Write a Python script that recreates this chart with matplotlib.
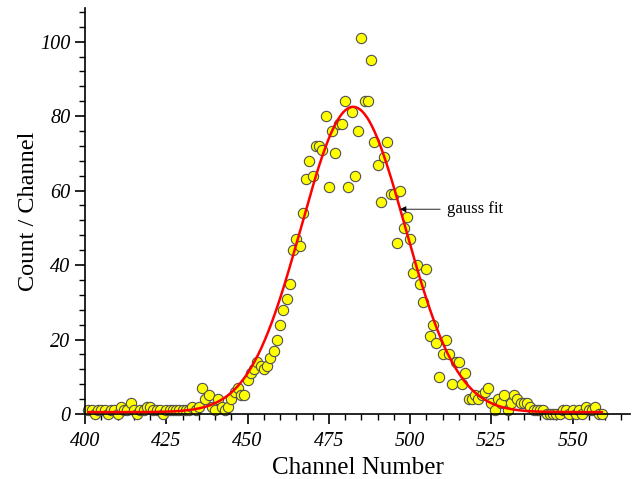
import numpy as np
import matplotlib
matplotlib.use("Agg")
import matplotlib.pyplot as plt
from matplotlib.ticker import MultipleLocator

# channel counts
channels = np.arange(401, 560)
counts = [
    1, 1, 0, 1, 1, 1, 0, 1, 1, 0,        # 401-410
    2, 1, 1, 3, 1, 0, 1, 1, 2, 2,        # 411-420
    1, 1, 1, 0, 1, 1, 1, 1, 1, 1,        # 421-430
    1, 1, 2, 1, 2, 7, 4, 5, 2, 1,        # 431-440
    4, 2, 1, 2, 4, 6, 7, 5, 5, 9,        # 441-450
    11, 12, 14, 13, 12, 13, 15, 17, 20, 24,   # 451-460
    28, 31, 35, 44, 47, 45, 54, 63, 68, 64,   # 461-470
    72, 72, 71, 80, 61, 76, 70, 78, 78, 84,   # 471-480
    61, 81, 64, 76, 101, 84, 84, 95, 73, 67,  # 481-490
    57, 69, 73, 59, 59, 46, 60, 50, 53, 47,   # 491-500
    38, 40, 35, 30, 39, 21, 24, 19, 10, 16,   # 501-510
    20, 16, 8, 14, 14, 8, 11, 4, 4, 5,        # 511-520
    4, 5, 6, 7, 3, 1, 4, 3, 5, 1,             # 521-530
    3, 5, 4, 3, 3, 3, 2, 1, 1, 1,             # 531-540
    1, 0, 0, 0, 0, 0, 1, 1, 0, 1,             # 541-550
    0, 1, 0, 2, 1, 1, 2, 0, 0,                # 551-559
]

# gauss fit parameters
fit_y0 = 0.5
fit_amp = 82.0
fit_xc = 482.5
fit_sigma = 16.0

plt.rcParams["font.family"] = ["Liberation Serif", "DejaVu Serif"]

fig = plt.figure(figsize=(6.32, 4.79), dpi=100)
ax = fig.add_axes([0.1345, 0.1357, 0.8625, 0.8473])

xf = np.linspace(channels[0], channels[-1], 600)
yf = fit_y0 + fit_amp * np.exp(-(xf - fit_xc) ** 2 / (2 * fit_sigma ** 2))

ax.scatter(channels, counts, s=55, facecolor="#ffff00", edgecolor="#505050",
           linewidth=0.8, zorder=2, clip_on=False)
ax.plot(xf, yf, color="#ff0000", lw=1.8, zorder=3)

ax.annotate("gauss fit", xy=(496.9, 55), xytext=(511.4, 55), fontsize=12,
            va="center", ha="left",
            arrowprops=dict(arrowstyle="-|>", color="black", lw=0.6,
                            mutation_scale=9, shrinkA=3, shrinkB=0))

ax.set_xlim(400, 567.7)
ax.set_ylim(0, 109)
ax.xaxis.set_major_locator(MultipleLocator(25))
ax.xaxis.set_minor_locator(MultipleLocator(5))
ax.yaxis.set_major_locator(MultipleLocator(20))
ax.yaxis.set_minor_locator(MultipleLocator(4))
ax.set_xticks([400, 425, 450, 475, 500, 525, 550])
ax.tick_params(which="major", direction="out", length=7, width=1.2, labelsize=14.5)
ax.tick_params(axis="x", which="major", pad=6)
ax.tick_params(which="minor", direction="out", length=4, width=1.0)
for lab in ax.get_xticklabels() + ax.get_yticklabels():
    lab.set_fontstyle("italic")

for s in ("top", "right"):
    ax.spines[s].set_visible(False)
for s in ("left", "bottom"):
    ax.spines[s].set_linewidth(1.2)

ax.set_xlabel("Channel Number", fontsize=18, labelpad=4)
ax.set_ylabel("Count / Channel", fontsize=17.5, labelpad=1)

fig.savefig("out.png", dpi=100)
